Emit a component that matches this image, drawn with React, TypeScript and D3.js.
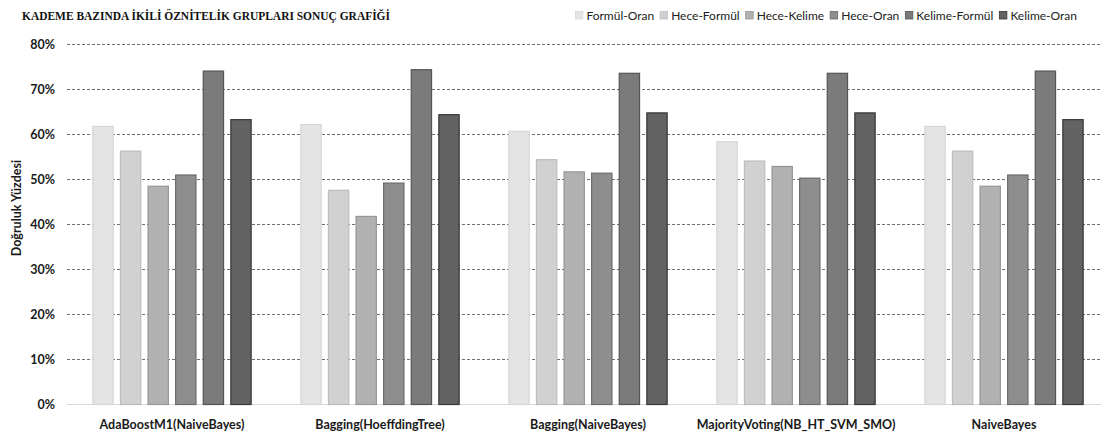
import React, { useEffect, useRef } from "react";
import * as d3 from "d3";

const categories = [
  "AdaBoostM1(NaiveBayes)",
  "Bagging(HoeffdingTree)",
  "Bagging(NaiveBayes)",
  "MajorityVoting(NB_HT_SVM_SMO)",
  "NaiveBayes",
];

const seriesNames = [
  "Formül-Oran",
  "Hece-Formül",
  "Hece-Kelime",
  "Hece-Oran",
  "Kelime-Formül",
  "Kelime-Oran",
];

const formulOran = [61.8, 62.2, 60.7, 58.4, 61.8];
const heceFormul = [56.3, 47.6, 54.4, 54.1, 56.3];
const heceKelime = [48.5, 41.8, 51.7, 52.9, 48.5];
const heceOran = [51.0, 49.2, 51.4, 50.3, 51.0];
const kelimeFormul = [74.1, 74.4, 73.6, 73.6, 74.1];
const kelimeOran = [63.3, 64.4, 64.8, 64.8, 63.3];

const yTicks = [0, 10, 20, 30, 40, 50, 60, 70, 80];

const fills = ["#e4e4e4", "#d1d1d1", "#b1b1b1", "#8e8e8e", "#7b7b7b", "#636363"];
const strokes = ["#d6d6d6", "#bcbcbc", "#979797", "#6a6a6a", "#545454", "#353535"];

const W = 1103;
const H = 435;
const SANS = "Lato, 'Open Sans', sans-serif";

export default function App() {
  const ref = useRef<SVGSVGElement | null>(null);

  useEffect(() => {
    const svg = d3.select(ref.current);
    svg.selectAll("*").remove();

    const values = [formulOran, heceFormul, heceKelime, heceOran, kelimeFormul, kelimeOran];

    const x0 = d3.scaleBand<string>().domain(categories).range([68, 1108]).padding(0);
    const x1 = d3
      .scaleBand<string>()
      .domain(seriesNames)
      .range([0, x0.bandwidth()])
      .paddingInner(0.228)
      .paddingOuter(0.882);
    const y = d3.scaleLinear().domain([0, 80]).range([404.5, 44.5]);

    // grid lines
    svg
      .append("g")
      .selectAll("line")
      .data(yTicks.filter((t) => t > 0))
      .join("line")
      .attr("x1", 67)
      .attr("x2", 1101)
      .attr("y1", (d) => y(d))
      .attr("y2", (d) => y(d))
      .attr("stroke", "#6f6f6f")
      .attr("stroke-width", 1)
      .attr("stroke-dasharray", "3,2");

    // baseline
    svg
      .append("line")
      .attr("x1", 67)
      .attr("x2", 1101)
      .attr("y1", y(0))
      .attr("y2", y(0))
      .attr("stroke", "#d9d9d9")
      .attr("stroke-width", 1);

    // y tick labels
    svg
      .append("g")
      .selectAll("text")
      .data(yTicks)
      .join("text")
      .attr("x", 55)
      .attr("y", (d) => y(d))
      .attr("dy", "0.35em")
      .attr("text-anchor", "end")
      .attr("font-family", SANS)
      .attr("font-weight", 700)
      .attr("font-size", 12.5)
      .attr("fill", "#1a1a1a")
      .text((d) => `${d}%`);

    // y axis title
    svg
      .append("text")
      .attr("transform", `translate(21,208) rotate(-90)`)
      .attr("text-anchor", "middle")
      .attr("font-family", SANS)
      .attr("font-weight", 700)
      .attr("font-size", 12.5)
      .attr("fill", "#1a1a1a")
      .text("Doğruluk Yüzdesi");

    // bars
    const groups = svg
      .append("g")
      .selectAll("g")
      .data(categories)
      .join("g")
      .attr("transform", (c) => `translate(${x0(c)},0)`);

    groups
      .selectAll("rect")
      .data((_c, gi) => seriesNames.map((s, si) => ({ s, si, v: values[si][gi] })))
      .join("rect")
      .attr("x", (d) => (x1(d.s) as number) + 0.5)
      .attr("y", (d) => y(d.v))
      .attr("width", x1.bandwidth() - 1)
      .attr("height", (d) => y(0) - y(d.v))
      .attr("fill", (d) => fills[d.si])
      .attr("stroke", (d) => strokes[d.si])
      .attr("stroke-width", 1.2);

    // category labels
    svg
      .append("g")
      .selectAll("text")
      .data(categories)
      .join("text")
      .attr("x", (c) => (x0(c) as number) + x0.bandwidth() / 2)
      .attr("y", 429)
      .attr("text-anchor", "middle")
      .attr("font-family", SANS)
      .attr("font-weight", 700)
      .attr("font-size", 12.5)
      .attr("fill", "#1a1a1a")
      .text((c) => c);

    // title
    svg
      .append("text")
      .attr("x", 22)
      .attr("y", 20)
      .attr("font-family", "'Liberation Serif', 'Times New Roman', serif")
      .attr("font-weight", 700)
      .attr("font-size", 13)
      .attr("textLength", 368)
      .attr("lengthAdjust", "spacingAndGlyphs")
      .attr("fill", "#111")
      .text("KADEME BAZINDA İKİLİ ÖZNİTELİK GRUPLARI SONUÇ GRAFİĞİ");

    // legend, laid out from measured text widths and right-aligned
    const legend = svg.append("g");
    const items = seriesNames.map((name, i) => {
      const rect = legend
        .append("rect")
        .attr("y", 11.5)
        .attr("width", 7.5)
        .attr("height", 7.5)
        .attr("fill", fills[i])
        .attr("stroke", strokes[i])
        .attr("stroke-width", 0.8);
      const text = legend
        .append("text")
        .attr("y", 15.5)
        .attr("dy", "0.35em")
        .attr("font-family", SANS)
        .attr("font-size", 12)
        .attr("fill", "#222")
        .text(name);
      const w = (text.node() as SVGTextElement).getComputedTextLength();
      return { rect, text, w };
    });
    const markGap = 11;
    const itemGap = 6;
    const total = items.reduce((s, it) => s + markGap + it.w, 0) + itemGap * (items.length - 1);
    let lx = 1077 - total;
    items.forEach((it) => {
      it.rect.attr("x", lx);
      it.text.attr("x", lx + markGap);
      lx += markGap + it.w + itemGap;
    });
  }, []);

  return (
    <svg
      ref={ref}
      width={W}
      height={H}
      style={{ position: "absolute", left: 0, top: 0, background: "#fff" }}
    />
  );
}
